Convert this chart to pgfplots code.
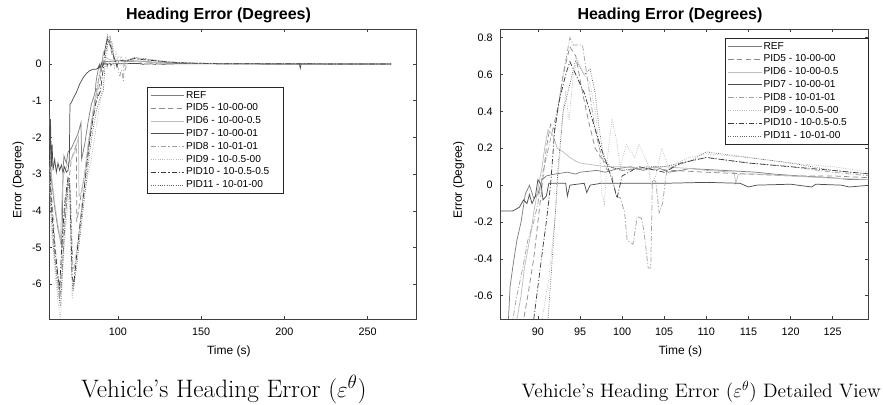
\documentclass[border=0pt]{standalone}
\usepackage{fontspec}
\newfontfamily\helv{Liberation Sans}
\usepackage{pgfplots}
\usepackage{pgfplotstable}
\pgfplotsset{compat=1.18}

\definecolor{cRef}{HTML}{7E7E7E}
\definecolor{cFive}{HTML}{8A8A8A}
\definecolor{cSix}{HTML}{BEBEBE}
\definecolor{cSeven}{HTML}{4E4E4E}
\definecolor{cEight}{HTML}{A2A2A2}
\definecolor{cNine}{HTML}{BABABA}
\definecolor{cTen}{HTML}{3A3A3A}
\definecolor{cEleven}{HTML}{666666}

% heading error (deg) against time (s), one table per run
\pgfplotstableread{
t e
58.6 -1.3
59.2 -2.4
60 -3.1
61 -3.5
62 -3.9
63 -4.2
64 -4.5
65 -4.7
66 -4.95
66.6 -4.4
67 -2.9
67.6 -2.5
69 -2.7
70 -2.4
72 -2.3
74 -2.1
76 -1.9
77.8 -1.6
78.2 -2.6
80 -2.2
82 -1.6
84 -1.1
85.5 -0.9
86.5 -0.73
86.7 -0.55
87 -0.45
87.5 -0.3
88 -0.2
88.5 -0.05
89 0.0
89.5 -0.07
90 -0.05
90.5 0.03
91 0.05
92 0.06
93.5 0.07
94.5 0.06
95 0.07
97 0.08
98 0.07
99.5 0.09
101 0.1
102.5 0.08
104 0.1
105.5 0.07
107 0.08
108 0.09
112 0.08
116 0.07
118 0.06
121 0.05
125 0.04
127 0.03
129.5 0.03
140 0.02
160 0.01
200 0.0
264 0.0
}\refdata

\pgfplotstableread{
t e
58.6 -2.0
60 -3.5
62 -4.8
64 -5.8
65 -6.4
66 -6.0
68 -4.5
70 -3.2
71 -3.0
72 -2.6
75 -2.2
75.3 -4.3
77 -3.8
80 -3.0
83 -2.0
86 -1.2
88 -0.8
88.3 -0.73
88.8 -0.6
89.5 -0.4
90 -0.2
90.5 0.0
91 0.2
91.5 0.33
92 0.3
92.5 0.45
93 0.6
93.8 0.75
94.5 0.7
95.3 0.5
96 0.35
96.8 0.2
97.5 0.15
98.5 0.1
100 0.08
103 0.09
106 0.08
110 0.07
115 0.06
120 0.05
125 0.05
129.5 0.04
140 0.02
160 0.01
264 0.0
}\pidfive

\pgfplotstableread{
t e
58.6 -1.5
60 -3.0
62 -3.8
64 -4.4
65.5 -4.8
66.5 -3.5
67.5 -3.0
70 -2.7
72 -2.6
74 -2.4
76.3 -2.0
76.6 -3.6
78 -3.5
80 -3.0
82 -2.2
84 -1.6
86 -1.1
87 -0.85
87.5 -0.73
88 -0.6
88.4 -0.45
88.8 -0.35
89.2 -0.25
89.5 -0.15
90 -0.02
90.5 0.1
90.8 0.2
91.2 0.3
91.8 0.27
92.3 0.2
93 0.18
93.8 0.15
94.5 0.13
95 0.12
96.5 0.11
98 0.1
100 0.1
102 0.09
105 0.1
108 0.09
110 0.08
113.3 0.07
113.5 0.01
113.8 0.06
116 0.06
120 0.05
124 0.04
129.5 0.03
140 0.02
160 0.01
200 0.0
264 0.0
}\pidsix

\pgfplotstableread{
t e
58.6 -1.0
59 -2.6
59.5 -1.5
60 -2.8
60.5 -2.2
61 -2.9
62 -2.6
63 -2.95
64 -2.7
65 -2.9
66 -2.75
67 -2.95
68 -2.8
69 -2.95
70 -2.9
70.8 -2.6
71.2 -1.1
72 -1.05
73 -0.95
75 -0.78
77 -0.55
79 -0.38
81 -0.26
83 -0.18
85.5 -0.14
87 -0.14
87.8 -0.12
88.3 -0.08
88.7 -0.1
89 -0.05
89.3 -0.1
89.7 -0.06
90 0.03
90.4 0.0
90.6 -0.08
91 -0.06
91.3 0.01
93.3 0.01
93.5 -0.06
93.8 0.0
95.5 0.01
95.8 -0.04
96.2 0.0
97.5 0.01
105 0.01
110 0.015
114 0.01
115 -0.01
116 0.0
120 0.005
122.5 -0.01
123 0.005
126 0.0
127 -0.01
129.5 0.0
140 0.01
150 0.01
180 0.005
209 0.0
209.5 -0.12
210 0.0
264 0.0
}\pidseven

\pgfplotstableread{
t e
58.6 -2.5
60 -4.0
62 -5.2
64 -6.0
65 -6.3
66 -5.5
68 -4.0
70 -3.2
71.5 -3.5
73 -5.6
74 -5.5
76 -4.8
78 -4.0
80 -3.2
82 -2.4
84 -1.6
86 -1.0
87.5 -0.6
88.2 -0.45
88.8 -0.3
89.5 -0.2
90 -0.1
90.5 0.05
91 0.15
91.5 0.25
92 0.35
92.5 0.45
93 0.6
93.8 0.8
94.2 0.76
95.3 0.76
95.8 0.6
96.3 0.45
96.8 0.3
97.3 0.2
98 0.1
98.8 0.05
99.3 -0.06
99.8 -0.07
100.3 -0.15
100.6 -0.3
101.3 -0.32
101.8 -0.17
102.3 -0.18
102.6 -0.25
103.1 -0.45
103.4 -0.45
103.6 0.03
104 0.02
104.4 -0.15
104.8 -0.1
105.3 0.08
106 0.1
108 0.13
110 0.15
115 0.12
120 0.1
125 0.07
129.5 0.05
140 0.03
160 0.01
264 0.0
}\pideight

\pgfplotstableread{
t e
58.6 -3.0
60 -4.5
62 -5.6
64 -6.5
65.5 -6.95
66.5 -6.0
68 -4.8
70 -3.8
71 -3.3
72 -5.0
72.5 -6.4
74 -5.6
76 -5.0
78 -4.2
80 -3.5
82 -3.0
84 -2.6
86 -2.0
88 -1.4
90.5 -0.73
91.3 -0.5
92 -0.2
92.5 0.1
93 0.4
93.3 0.5
93.7 0.35
94.2 0.6
94.7 0.68
95.5 0.6
96.2 0.55
96.8 0.4
97.3 0.2
97.6 -0.05
97.9 -0.1
98.2 0.12
98.8 0.36
99.3 0.25
99.8 0.1
100.5 0.22
101.5 0.15
102 0.22
103 0.12
103.5 0.0
104 0.05
104.7 0.2
105.5 0.1
108 0.15
110 0.17
115 0.15
120 0.12
125 0.1
129.5 0.07
140 0.03
160 0.01
264 0.0
}\pidnine

\pgfplotstableread{
t e
58.6 -2.2
60 -3.8
62 -5.0
64 -5.8
65 -6.1
66 -5.2
68 -3.8
70 -3.1
71 -3.2
72.5 -5.8
73.5 -6.0
75 -5.3
77 -4.5
79 -3.7
81 -2.9
83 -2.1
85 -1.5
87 -1.0
89.5 -0.73
90 -0.55
90.7 -0.3
91 -0.2
91.5 0.0
92 0.3
92.5 0.45
93.3 0.6
93.8 0.67
94.5 0.6
95.5 0.5
96.5 0.35
97.5 0.2
98.3 0.1
99 0.0
99.4 -0.07
100 0.05
102 0.1
105 0.07
107 0.12
110 0.15
115 0.12
120 0.1
125 0.08
129.5 0.06
140 0.03
160 0.01
264 0.0
}\pidten

\pgfplotstableread{
t e
58.6 -2.8
60 -4.2
62 -5.4
64 -6.2
65.5 -6.6
66.5 -5.8
68 -4.4
70 -3.4
71 -3.1
72 -5.5
73 -6.2
75 -5.6
77 -4.8
79 -4.0
81 -3.2
83 -2.4
85 -1.8
87 -1.3
89 -0.95
91.2 -0.73
91.7 -0.4
92 -0.2
92.4 0.1
93 0.4
93.8 0.55
94.5 0.68
95.5 0.6
96.2 0.63
96.8 0.5
97.3 0.3
97.8 0.15
98.5 0.1
100 0.08
103 0.1
105 0.1
108 0.13
110 0.18
115 0.15
120 0.12
125 0.08
129.5 0.06
140 0.03
160 0.01
264 0.0
}\pideleven

\pgfplotsset{
  herr/.style={
    scale only axis,
    height=217.5pt,
    axis line style={draw=black!75, line width=0.5pt},
    tick style={draw=black!75, line width=0.4pt},
    tick align=inside,
    major tick length=2.4pt,
    /pgf/number format/assume math mode=true,
    tick label style={font=\helv\fontsize{8.1}{9}\selectfont},
    label style={font=\helv\fontsize{9}{10}\selectfont},
    title={Heading Error (Degrees)},
    title style={font=\helv\bfseries\fontsize{12}{14}\selectfont,
                 at={(axis description cs:0.5,1)}, anchor=center,
                 yshift=4.5pt, xshift=-10.5pt},
    xlabel={Time (s)},
    ylabel={Error (Degree)},
    xlabel style={at={(axis description cs:0.49,0)}, anchor=center, yshift=-24.5pt},
    xticklabel style={yshift=-3.5pt},
    yticklabel style={xshift=-2pt},
    legend cell align=left,
    legend style={draw=black!85, line width=0.5pt, fill=white, anchor=north west,
                  font=\helv\fontsize{7.6}{9}\selectfont,
                  inner xsep=2pt, inner ysep=1.5pt,
                  nodes={inner sep=1.2pt, text height=5.6pt, text depth=1.6pt}},
    legend image code/.code={\draw[#1] (0pt,0pt) -- (25pt,0pt);},
    every axis plot/.append style={line width=0.55pt},
  },
  sref/.style={cRef},
  sfive/.style={cFive, dash pattern=on 4pt off 2.5pt},
  ssix/.style={cSix},
  sseven/.style={cSeven},
  seight/.style={cEight, dash pattern=on 4pt off 1.5pt on 0.8pt off 1.5pt},
  snine/.style={cNine, dash pattern=on 0.6pt off 1.1pt},
  sten/.style={cTen, dash pattern=on 4pt off 1.5pt on 0.8pt off 1.5pt},
  seleven/.style={cEleven, dash pattern=on 0.6pt off 1.1pt},
}

\begin{document}
\begin{tikzpicture}
\useasboundingbox (0,0) rectangle (662.25pt,303pt);

% ---- left: whole run ----
\begin{axis}[
    herr,
    at={(36.75pt,63.75pt)}, anchor=south west,
    width=275.25pt,
    xmin=58.6, xmax=279, ymin=-6.95, ymax=0.955,
    xtick={100,150,200,250},
    ytick={-6,-5,-4,-3,-2,-1,0},
    ylabel style={at={(axis description cs:-0.0836,0.479)}, anchor=center},
    legend style={at={(0.268,0.801)}},
]
\addplot[sref] table {\refdata};
\addplot[sfive] table {\pidfive};
\addplot[ssix] table {\pidsix};
\addplot[sseven] table {\pidseven};
\addplot[seight] table {\pideight};
\addplot[snine] table {\pidnine};
\addplot[sten] table {\pidten};
\addplot[seleven] table {\pideleven};
\legend{REF, PID5 - 10-00-00, PID6 - 10-00-0.5, PID7 - 10-00-01,
        PID8 - 10-01-01, PID9 - 10-0.5-00, PID10 - 10-0.5-0.5\hspace*{7.5pt}, PID11 - 10-01-00}
\end{axis}

% ---- right: detail around the overshoot ----
\begin{axis}[
    herr,
    at={(375pt,63.75pt)}, anchor=south west,
    width=276pt,
    xmin=85.5, xmax=129.2, ymin=-0.726, ymax=0.847,
    xtick={90,95,...,125},
    ytick={-0.6,-0.4,-0.2,0,0.2,0.4,0.6,0.8},
    ylabel style={at={(axis description cs:-0.112,0.479)}, anchor=center},
    legend style={at={(0.611,0.97)}},
]
\addplot[sref] table {\refdata};
\addplot[sfive] table {\pidfive};
\addplot[ssix] table {\pidsix};
\addplot[sseven] table {\pidseven};
\addplot[seight] table {\pideight};
\addplot[snine] table {\pidnine};
\addplot[sten] table {\pidten};
\addplot[seleven] table {\pideleven};
\legend{REF, PID5 - 10-00-00, PID6 - 10-00-0.5, PID7 - 10-00-01,
        PID8 - 10-01-01, PID9 - 10-0.5-00, PID10 - 10-0.5-0.5\hspace*{13pt}, PID11 - 10-01-00}
\end{axis}

% sub-figure captions
\node[anchor=base, font=\fontsize{18.9}{22}\selectfont] at (168pt,5.25pt)
    {Vehicle's Heading Error ($\varepsilon^{\theta}$)};
\node[anchor=base, font=\fontsize{14.6}{17}\selectfont] at (526pt,5.25pt)
    {Vehicle's Heading Error ($\varepsilon^{\theta}$) Detailed View};
\end{tikzpicture}
\end{document}
